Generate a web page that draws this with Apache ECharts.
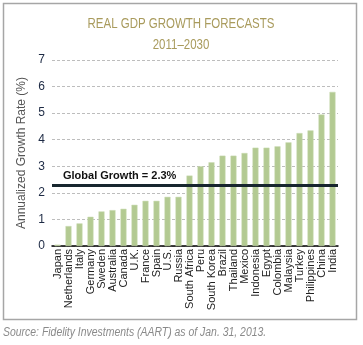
<!DOCTYPE html>
<html>
<head>
<meta charset="utf-8">
<script src="https://cdn.jsdelivr.net/npm/echarts@6/dist/echarts.min.js"></script>
<style>
  html, body { margin: 0; padding: 0; background: #fff; }
  #chart { width: 363px; height: 345px; }
</style>
</head>
<body>
<div id="chart"></div>
<script>
// Real GDP growth forecasts by country, 2011–2030 (annualized %)
const countries = ['Japan', 'Netherlands', 'Italy', 'Germany', 'Sweden', 'Australia', 'Canada', 'U.K.',
  'France', 'Spain', 'U.S.', 'Russia', 'South Africa', 'Peru', 'South Korea', 'Brazil', 'Thailand',
  'Mexico', 'Indonesia', 'Egypt', 'Colombia', 'Malaysia', 'Turkey', 'Philippines', 'China', 'India'];
const growthRates = [0.05, 0.75, 0.85, 1.1, 1.3, 1.35, 1.4, 1.55,
  1.7, 1.7, 1.85, 1.85, 2.65, 3.0, 3.15, 3.4, 3.4,
  3.5, 3.7, 3.7, 3.75, 3.9, 4.25, 4.35, 4.95, 5.8];
const globalGrowth = 2.3;
const yTicks = { min: 0, max: 7, step: 1 };

const sans = '"Liberation Sans", Arial, sans-serif';
const chart = echarts.init(document.getElementById('chart'), null, { renderer: 'canvas' });

// Condensed-looking text: horizontally squeezed plain text elements
function squeezed(text, x, y, font, fill, align, sx) {
  return {
    type: 'text', x: x, y: y, scaleX: sx, scaleY: 1,
    style: { text: text, x: 0, y: 0, font: font, fill: fill, align: align, verticalAlign: 'top' }
  };
}

chart.setOption({
  animation: false,
  backgroundColor: '#fff',
  graphic: [
    {
      type: 'rect', z: -1,
      shape: { x: 3.5, y: 3.5, width: 353, height: 316 },
      style: { fill: 'none', stroke: '#a6a6a6', lineWidth: 1.5 }
    },
    squeezed('REAL GDP GROWTH FORECASTS', 181, 17, '14px ' + sans, '#a99b5d', 'center', 0.82),
    squeezed('2011–2030', 181, 38, '14px ' + sans, '#a99b5d', 'center', 0.82),
    squeezed('Source: Fidelity Investments (AART) as of Jan. 31, 2013.', 3, 327,
      'italic 12px ' + sans, '#8a8a8a', 'left', 0.87)
  ],
  grid: { left: 52, right: 25, top: 60, bottom: 99, containLabel: false },
  xAxis: {
    type: 'category',
    data: countries,
    boundaryGap: true,
    axisLine: { show: true, lineStyle: { color: '#000', width: 1.5 } },
    axisTick: { show: false },
    axisLabel: {
      rotate: 90, interval: 0, margin: 3,
      fontFamily: sans, fontSize: 11, color: '#222'
    }
  },
  yAxis: {
    type: 'value',
    min: yTicks.min, max: yTicks.max, interval: yTicks.step,
    name: 'Annualized Growth Rate (%)',
    nameLocation: 'middle', nameGap: 22,
    nameTextStyle: { fontFamily: sans, fontSize: 12, color: '#555' },
    axisLine: { show: false },
    axisTick: { show: false },
    axisLabel: { margin: 7, fontFamily: sans, fontSize: 12, color: '#1d2a44' },
    splitLine: { show: true, lineStyle: { color: '#bdbdbd', type: [3, 2], width: 1 } }
  },
  series: [{
    type: 'bar',
    data: growthRates,
    barWidth: 6,
    itemStyle: { color: '#b3ca92', borderColor: '#c9dab0', borderWidth: 0.5 },
    markLine: {
      silent: true,
      symbol: 'none',
      data: [{ yAxis: globalGrowth }],
      lineStyle: { color: '#17262e', width: 3, type: 'solid' },
      label: {
        show: true,
        position: 'insideStartTop',
        distance: [11, 3],
        formatter: 'Global Growth = ' + globalGrowth + '%',
        fontFamily: sans, fontSize: 11, fontWeight: 'bold', color: '#111'
      }
    }
  }]
});
</script>
</body>
</html>
